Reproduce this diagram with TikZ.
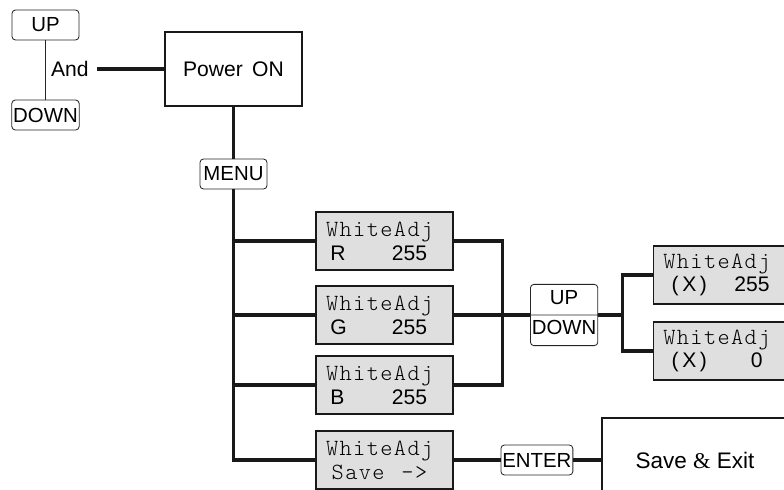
\documentclass[tikz,border=0pt]{standalone}
\usepackage{fontspec}
\setmainfont{Liberation Sans}
\newfontfamily\lcdfont{lmmonolt10-regular.otf}[LetterSpace=6]
\newfontfamily\ampfont{Liberation Serif}
\usetikzlibrary{shapes.multipart}
\tikzstyle{key} = [rectangle, rounded corners=2.5pt, minimum width=1.675cm, minimum height=0.75cm, inner sep=1pt, text centered, draw=black!85, line width=0.6pt, font=\fontsize{14.5}{16}\selectfont]
\tikzstyle{panel} = [rectangle, minimum width=3.425cm, minimum height=1.85cm, text centered, draw=black!90, line width=1.3pt, font=\fontsize{15}{17}\selectfont]
\tikzstyle{lcd} = [rectangle, minimum height=1.45cm, inner xsep=7pt, text width=83.1pt, align=left, draw=black!90, line width=1.3pt, fill=gray!25, font=\fontsize{15}{17}\selectfont]
\tikzstyle{wire} = [line width=2.2pt, black!90]
\newcommand{\lcdmono}{\lcdfont\fontsize{16.5}{17}\selectfont}
\newcommand{\adjtext}[4]{{\lcdmono WhiteAdj}\\\hspace*{#1}#2\hfill#3\kern#4\null}

\begin{document}
\begin{tikzpicture}[node distance=2cm]
\path[use as bounding box, clip] (-5.8375,1.725) rectangle (13.7625,-10.525);

\node (powerOn)[panel]{Power\, ON};
\node (upKey)[key, left of=powerOn, xshift=-2.7cm, yshift=1.1cm]{UP};
\node (downKey)[key, below of=upKey, yshift=-0.25cm]{DOWN};
\node (andText)[left of=powerOn, xshift=-2.09cm, inner xsep=6pt, font=\fontsize{15}{17}\selectfont]{And};
\draw [black!85, line width=1pt](upKey) -- (downKey);
\draw [wire](andText) -- (powerOn);

\node (menuKey)[key, below of=powerOn, yshift=-0.625cm]{MENU};
\draw [wire](powerOn) -- (menuKey);

\node (adjR)[lcd, below of=menuKey, xshift=3.775cm, yshift=0.325cm]{\adjtext{3pt}{R}{255}{11.3pt}};
\node (adjG)[lcd, below of=adjR, yshift=0.15cm]{\adjtext{3pt}{G}{255}{11.3pt}};
\node (adjB)[lcd, below of=adjG, yshift=0.25cm]{\adjtext{3pt}{B}{255}{11.3pt}};
\node (adjSave)[lcd, below of=adjB, yshift=0.125cm]{{\lcdmono WhiteAdj}\\\hspace*{4pt}{\lcdmono Save\ \ \kern2pt->}};
\draw [wire](menuKey) |- (adjR);
\draw [wire](menuKey) |- (adjG);
\draw [wire](menuKey) |- (adjB);
\draw [wire](menuKey) |- (adjSave);

\coordinate[right of=adjG, xshift=0.95cm] (rgbJoin);
\node (upDown)[key, rectangle split, rectangle split parts=2, minimum height=0pt, inner ysep=2.6pt, right of=adjG, xshift=2.49cm]{\strut UP\nodepart{two}\strut DOWN};
\draw [wire](adjR) -| (rgbJoin) |- (adjB);
\draw [wire](adjG) -- (upDown);

\coordinate[right of=upDown, xshift=-0.55cm] (xJoin);
\node (adjMax)[lcd, right of=upDown, xshift=1.94cm, yshift=1cm]{\adjtext{6pt}{(\,X\,)}{255}{7.5pt}};
\node (adjMin)[lcd, below of=adjMax, yshift=0.1cm]{\adjtext{6pt}{(\,X\,)}{0}{12.5pt}};
\draw [wire](upDown) -- (xJoin);
\draw [wire](adjMax) -| (xJoin) |- (adjMin);

\node (enterKey)[key, right of=adjSave, xshift=1.81cm]{ENTER};
\node (saveExit)[panel, right of=enterKey, xshift=1.95cm, minimum width=4.65cm, minimum height=2.1cm, font=\fontsize{16}{18}\selectfont]{Save {\ampfont\&} Exit};
\draw [wire](adjSave) -- (enterKey);
\draw [wire](enterKey) -- (saveExit);
\end{tikzpicture}
\end{document}
